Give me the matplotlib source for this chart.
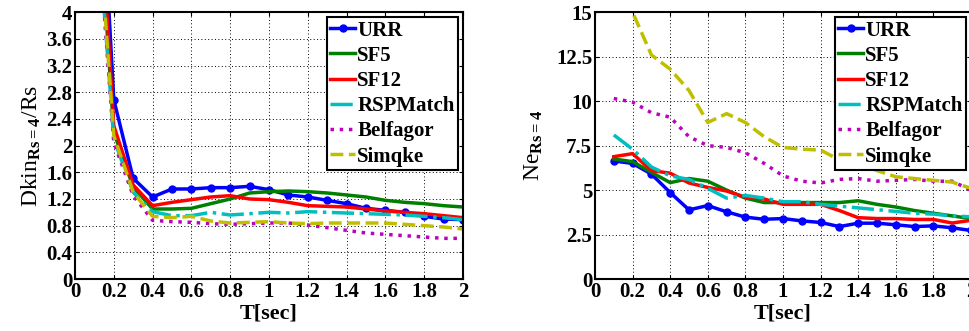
import numpy as np
import matplotlib
matplotlib.use('Agg')
import matplotlib.pyplot as plt

plt.rcParams['font.family'] = ['Liberation Serif', 'DejaVu Serif']
plt.rcParams['font.weight'] = 'bold'
plt.rcParams['axes.labelweight'] = 'bold'
plt.rcParams['mathtext.fontset'] = 'custom'
plt.rcParams['mathtext.rm'] = 'Liberation Serif'
plt.rcParams['mathtext.it'] = 'Liberation Serif'
plt.rcParams['mathtext.bf'] = 'Liberation Serif:bold'
plt.rcParams['mathtext.default'] = 'rm'

# Period values
T = [0.1, 0.2, 0.3, 0.4, 0.5, 0.6, 0.7, 0.8, 0.9, 1.0,
     1.1, 1.2, 1.3, 1.4, 1.5, 1.6, 1.7, 1.8, 1.9, 2.0]
names = ['URR', 'SF5', 'SF12', 'RSPMatch', 'Belfagor', 'Simqke']

# Dkin ratio (left panel)
dkin_urr = [8.0, 2.69, 1.51, 1.23, 1.35, 1.35, 1.37, 1.37, 1.39, 1.34,
            1.26, 1.23, 1.18, 1.13, 1.06, 1.03, 1.00, 0.94, 0.90, 0.89]
dkin_sf5 = [6.6, 2.20, 1.38, 1.05, 1.05, 1.06, 1.13, 1.20, 1.29, 1.31,
            1.32, 1.31, 1.29, 1.26, 1.23, 1.18, 1.15, 1.13, 1.10, 1.08]
dkin_sf12 = [7.1, 2.30, 1.41, 1.10, 1.15, 1.19, 1.23, 1.25, 1.20, 1.19,
             1.15, 1.10, 1.09, 1.08, 1.05, 1.02, 1.00, 0.98, 0.95, 0.92]
dkin_rsp = [6.0, 2.10, 1.30, 1.01, 0.95, 0.95, 1.00, 0.96, 0.98, 1.00,
            0.99, 1.01, 1.00, 0.99, 0.98, 0.97, 0.96, 0.94, 0.92, 0.89]
dkin_bel = [6.0, 2.05, 1.25, 0.88, 0.86, 0.85, 0.83, 0.82, 0.83, 0.84,
            0.84, 0.81, 0.77, 0.73, 0.69, 0.67, 0.65, 0.63, 0.61, 0.61]
dkin_sim = [6.2, 2.15, 1.30, 0.94, 0.92, 0.94, 0.87, 0.84, 0.85, 0.86,
            0.84, 0.83, 0.84, 0.84, 0.84, 0.84, 0.82, 0.80, 0.78, 0.75]

# Ne (right panel)
ne_urr = [6.64, 6.50, 5.90, 4.86, 3.89, 4.13, 3.78, 3.48, 3.36, 3.40,
          3.27, 3.18, 2.95, 3.14, 3.14, 3.05, 2.95, 2.99, 2.88, 2.73]
ne_sf5 = [6.75, 6.60, 6.00, 5.42, 5.65, 5.50, 5.00, 4.55, 4.30, 4.30,
          4.30, 4.30, 4.30, 4.40, 4.20, 4.05, 3.85, 3.70, 3.55, 3.40]
ne_sf12 = [6.88, 7.05, 6.10, 5.95, 5.40, 5.15, 4.95, 4.60, 4.50, 4.20,
           4.20, 4.20, 3.85, 3.45, 3.40, 3.40, 3.35, 3.35, 3.15, 3.30]
ne_rsp = [8.10, 7.30, 6.30, 5.80, 5.60, 5.10, 4.55, 4.70, 4.55, 4.35,
          4.35, 4.20, 4.10, 4.00, 3.90, 3.80, 3.70, 3.65, 3.55, 3.50]
ne_bel = [10.15, 9.95, 9.35, 9.10, 8.00, 7.50, 7.40, 7.10, 6.50, 5.80,
          5.50, 5.40, 5.60, 5.65, 5.50, 5.55, 5.60, 5.50, 5.50, 5.00]
ne_sim = [17.0, 15.0, 12.6, 11.8, 10.6, 8.8, 9.3, 8.8, 8.0, 7.4,
          7.3, 7.25, 6.7, 6.5, 6.1, 5.75, 5.65, 5.55, 5.45, 5.1]

styles = [dict(color=(0, 0, 1), ls='-', marker='o', ms=5),
          dict(color=(0, 0.5, 0), ls='-'),
          dict(color=(1, 0, 0), ls='-'),
          dict(color=(0, 0.75, 0.75), ls='-.'),
          dict(color=(0.75, 0, 0.75), ls=':'),
          dict(color=(0.75, 0.75, 0), ls='--')]

fig = plt.figure(figsize=(9.7, 3.31), dpi=100)
ax1 = fig.add_axes([0.0773, 0.157, 0.400, 0.806])
ax2 = fig.add_axes([0.6134, 0.157, 0.3876, 0.806])


def draw(ax, series, yticks, ylabels, ymax, ylabel, lpad):
    for s, name, st in zip(series, names, styles):
        ax.plot(T, s, lw=2.5, label=name, **st)
    ax.set_xlim(0, 2)
    ax.set_ylim(0, ymax)
    ax.set_xticks(np.arange(0, 2.01, 0.2))
    ax.set_xticklabels(['0', '0.2', '0.4', '0.6', '0.8', '1', '1.2', '1.4', '1.6', '1.8', '2'])
    ax.set_yticks(yticks)
    ax.set_yticklabels(ylabels)
    ax.grid(True, color='black', ls=(0, (1, 2.5)), lw=0.7)
    ax.tick_params(direction='in', length=3, labelsize=15, top=True, right=True, pad=2)
    for sp in ax.spines.values():
        sp.set_linewidth(1.5)
    ax.set_xlabel('T[sec]', fontsize=16, labelpad=1)
    ax.set_ylabel(ylabel, fontsize=17, fontweight='normal', labelpad=lpad)
    leg = ax.legend(loc='upper right', fontsize=15, fancybox=False, framealpha=1,
                    edgecolor='black', borderaxespad=0.25, borderpad=0.15,
                    labelspacing=0.25, handlelength=1.2, handletextpad=0.1)
    leg.get_frame().set_linewidth(1.5)


draw(ax1, [dkin_urr, dkin_sf5, dkin_sf12, dkin_rsp, dkin_bel, dkin_sim],
     np.arange(0, 4.01, 0.4),
     ['0', '0.4', '0.8', '1.2', '1.6', '2', '2.4', '2.8', '3.2', '3.6', '4'],
     4, r'Dkin$_{Rs=4}$/Rs', 2)
draw(ax2, [ne_urr, ne_sf5, ne_sf12, ne_rsp, ne_bel, ne_sim],
     np.arange(0, 15.01, 2.5),
     ['0', '2.5', '5', '7.5', '10', '12.5', '15'],
     15, r'Ne$_{Rs=4}$', 8)

fig.savefig('out.png', dpi=100)
